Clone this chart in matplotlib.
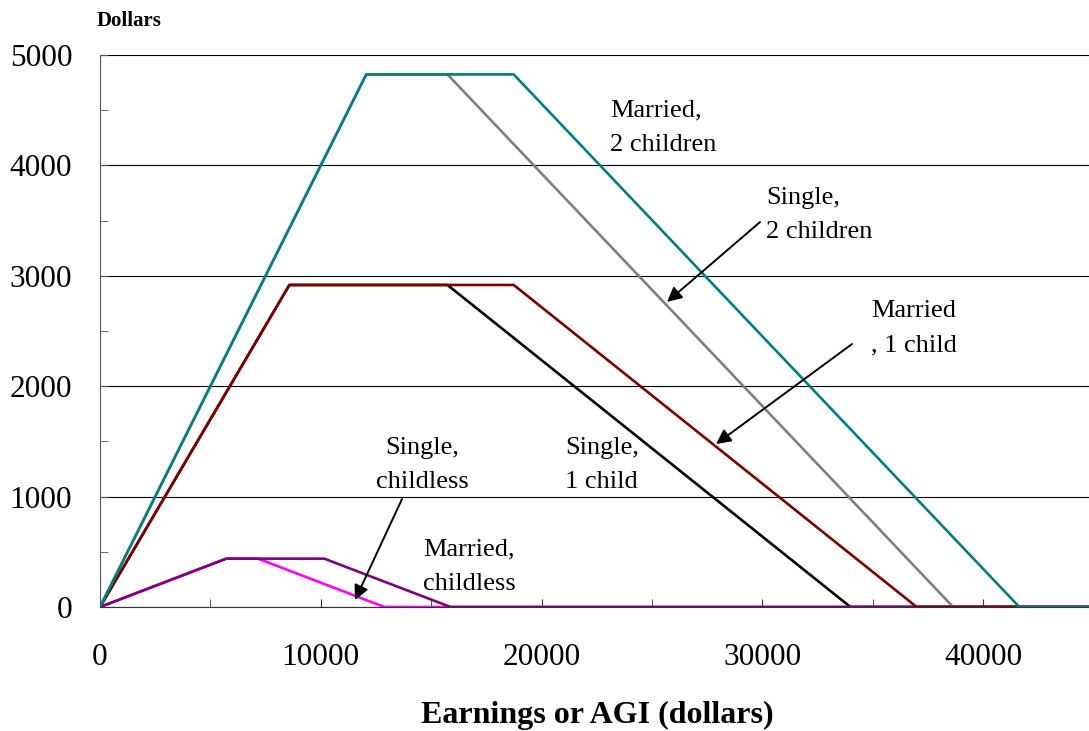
import matplotlib
matplotlib.use("Agg")
from matplotlib import pyplot as plt
from matplotlib.ticker import MultipleLocator

# EITC schedules (earnings in dollars, credit in dollars)
married_2_x = [0, 12060, 18740, 41646, 45000]
married_2_y = [0, 4824, 4824, 0, 0]
single_2_x = [0, 12060, 15740, 38646, 45000]
single_2_y = [0, 4824, 4824, 0, 0]
married_1_x = [0, 8580, 18740, 36995, 45000]
married_1_y = [0, 2917, 2917, 0, 0]
single_1_x = [0, 8580, 15740, 33995, 45000]
single_1_y = [0, 2917, 2917, 0, 0]
married_0_x = [0, 5720, 10160, 15880, 45000]
married_0_y = [0, 438, 438, 0, 0]
single_0_x = [0, 5720, 7160, 12880, 45000]
single_0_y = [0, 438, 438, 0, 0]

serif = ["Liberation Serif", "DejaVu Serif"]
plt.rcParams['font.family'] = serif

fig = plt.figure(figsize=(10.89, 7.31), dpi=100)
ax = fig.add_axes([100 / 1089, 124 / 731, 989 / 1089, 552 / 731])

lw = 1.9
# order matters: later series sit on top along the zero line
ax.plot(single_0_x, single_0_y, color='#FF00FF', lw=lw)
ax.plot(single_1_x, single_1_y, color='black', lw=lw)
ax.plot(single_2_x, single_2_y, color='#808080', lw=lw)
ax.plot(married_0_x, married_0_y, color='#800080', lw=lw)
ax.plot(married_1_x, married_1_y, color='#800000', lw=lw)
ax.plot(married_2_x, married_2_y, color='#008080', lw=lw)

ax.set_xlim(0, 44800)
ax.set_ylim(0, 5000)
ax.xaxis.set_major_locator(MultipleLocator(10000))
ax.xaxis.set_minor_locator(MultipleLocator(5000))
ax.yaxis.set_major_locator(MultipleLocator(1000))
ax.yaxis.set_minor_locator(MultipleLocator(500))
ax.grid(axis='y', which='major', color='black', lw=0.8)
ax.set_axisbelow(True)

for s in ['top', 'right']:
    ax.spines[s].set_visible(False)
ax.spines['left'].set_color('#555555')
ax.spines['bottom'].set_color('#333333')

ax.tick_params(axis='x', which='both', direction='in', length=6, pad=26,
               labelsize=22.5, color='#333333')
ax.tick_params(axis='y', which='both', direction='in', length=6, pad=20,
               labelsize=22.5, color='#555555')

fs = 19
ls = 1.75
ax.text(23100, 4339, "Married,\n2 children", fontsize=fs, ha='left', va='center',
        linespacing=ls)
ax.text(30170, 3551, "Single,\n2 children", fontsize=fs, ha='left', va='center',
        linespacing=ls)
ax.text(34930, 2527, "Married\n, 1 child", fontsize=fs, ha='left', va='center',
        linespacing=ls)
ax.text(21065, 1286, "Single,\n1 child", fontsize=fs, ha='left', va='center',
        linespacing=ls)
ax.text(14587, 1286, "Single,\nchildless", fontsize=fs, ha='center', va='center',
        multialignment='center', linespacing=ls)
ax.text(14632, 362, "Married,\nchildless", fontsize=fs, ha='left', va='center',
        linespacing=ls)

arrow = dict(arrowstyle='-|>', color='black', lw=1.4, mutation_scale=22,
             shrinkA=0, shrinkB=0)
ax.annotate("", xy=(25685, 2763), xytext=(29898, 3487), arrowprops=arrow)
ax.annotate("", xy=(27905, 1476), xytext=(34066, 2382), arrowprops=arrow)
ax.annotate("", xy=(11551, 63), xytext=(13681, 978), arrowprops=arrow)

fig.text(97 / 1089, 1 - 26 / 731, "Dollars", fontsize=15, fontweight='bold',
         ha='left', va='baseline')
fig.text(597 / 1089, 1 - 723 / 731, "Earnings or AGI (dollars)", fontsize=23,
         fontweight='bold', ha='center', va='baseline')

fig.savefig("out.png", dpi=100)
